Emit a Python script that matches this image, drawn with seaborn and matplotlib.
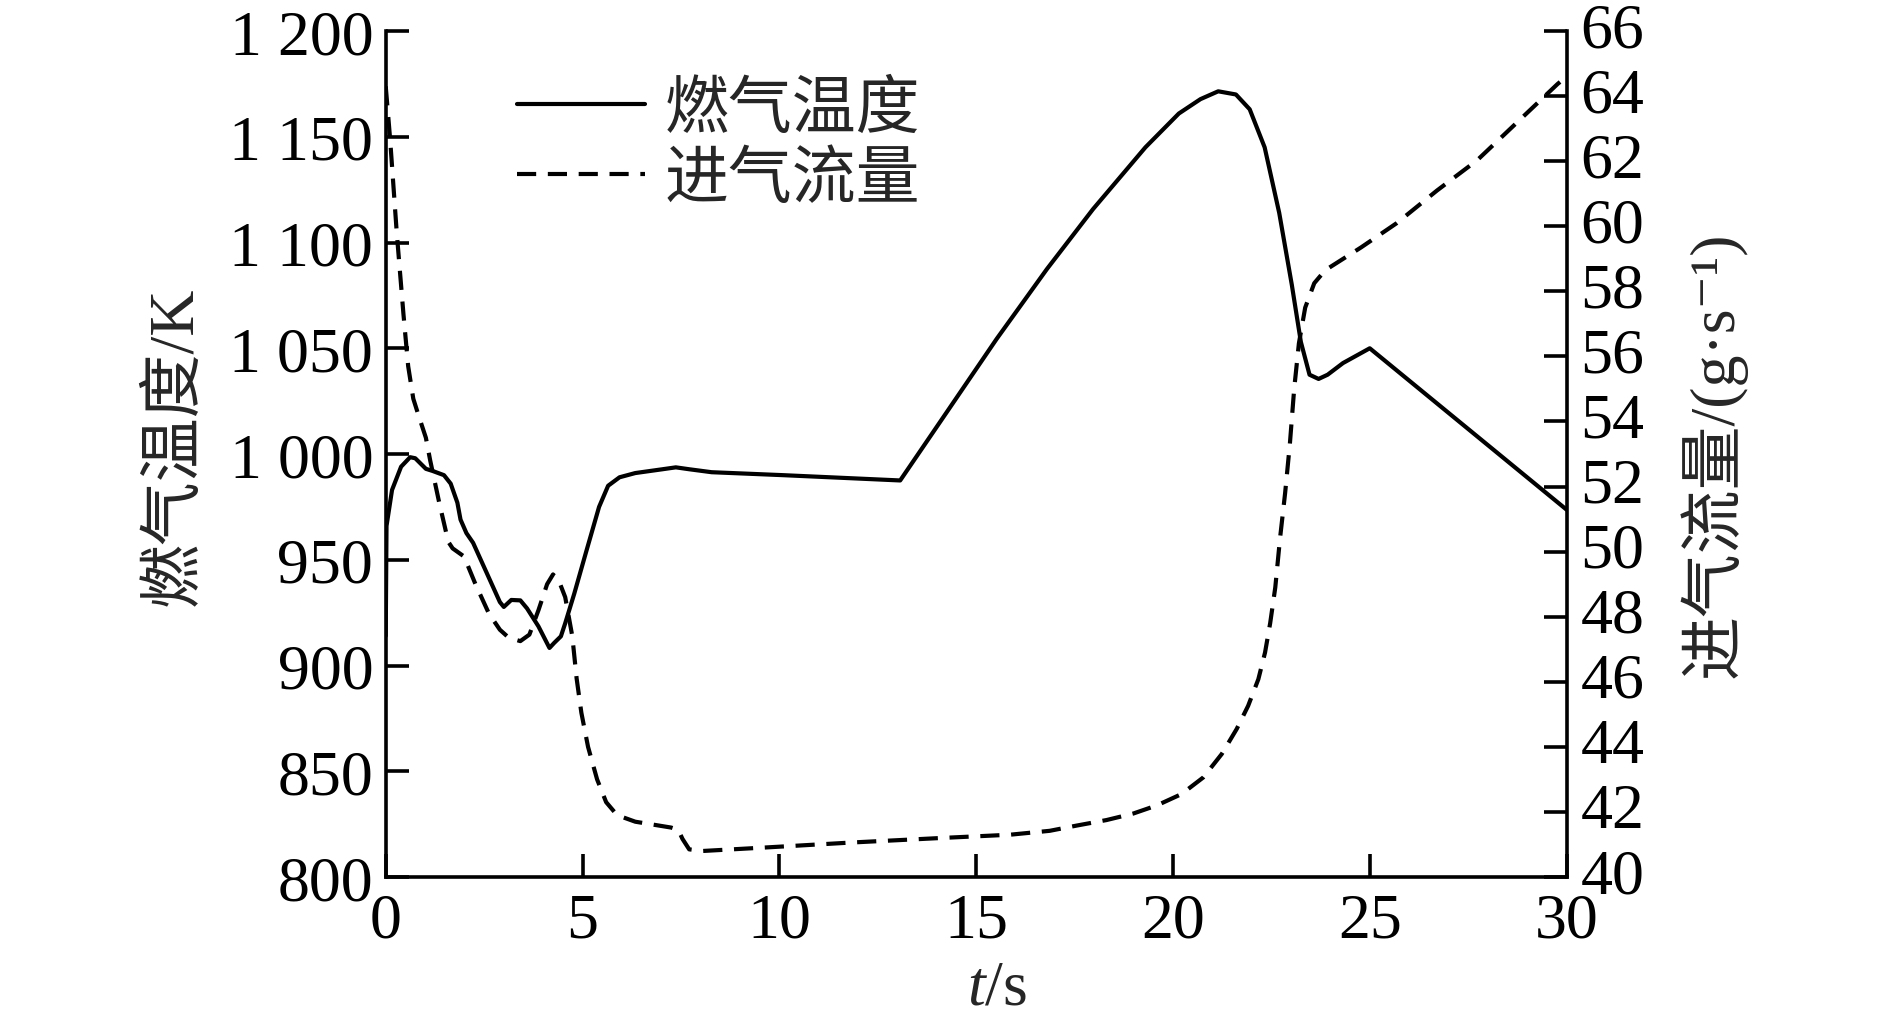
import numpy as np
import pandas as pd
import matplotlib
matplotlib.use("Agg")
import matplotlib.pyplot as plt
import matplotlib.transforms as mtransforms
import seaborn as sns

# ---- data ----
t_temp = [0, 0.02, 0.16, 0.39, 0.62, 0.75, 1.02, 1.19, 1.48, 1.65, 1.82, 1.9, 2.05,
          2.22, 2.56, 2.9, 3.0, 3.19, 3.42, 3.59, 3.88, 4.16, 4.28, 4.45, 4.56, 4.79,
          5.08, 5.42, 5.65, 5.94, 6.34, 7.03, 7.37, 7.71, 8.28, 10.1, 13.07, 14.25,
          15.52, 16.8, 17.97, 19.3, 20.15, 20.7, 21.15, 21.6, 21.95, 22.33, 22.7,
          23.02, 23.25, 23.47, 23.7, 23.93, 24.32, 25.0, 30.0]
temp = [914, 966, 983, 994, 998.5, 998, 993, 992, 990, 986, 977, 969, 962.6,
        958, 944, 930, 927.7, 931, 930.8, 927, 918.5, 908.3, 910.7, 913.8, 920, 934,
        953, 975, 985, 989, 991, 992.8, 993.7, 992.8, 991.4, 990, 987.5, 1019.7,
        1054.4, 1087.5, 1115.8, 1145, 1161, 1167.8, 1171.5, 1170, 1163, 1145, 1114,
        1080, 1053, 1037.5, 1035.5, 1037.5, 1043, 1050, 973.7]

t_flow = [0, 0.11, 0.28, 0.45, 0.57, 0.7, 0.83, 1.02, 1.13, 1.36, 1.59, 1.7, 1.99,
          2.28, 2.62, 2.9, 3.13, 3.42, 3.65, 3.88, 4.1, 4.25, 4.4, 4.56, 4.74, 4.85,
          4.97, 5.14, 5.37, 5.6, 5.88, 6.34, 7.25, 7.43, 7.54, 7.71, 8.05, 9.54,
          11.83, 14.12, 15.86, 16.87, 17.55, 18.31, 18.99, 19.59, 20.22, 20.77,
          21.24, 21.62, 21.91, 22.17, 22.34, 22.47, 22.6, 22.72, 22.85, 22.97,
          23.08, 23.2, 23.36, 23.59, 23.87, 24.78, 25.69, 26.71, 27.73, 28.75,
          29.77, 30.0]
flow = [64.3, 62.7, 59.8, 57.3, 55.7, 54.7, 54.2, 53.5, 52.8, 51.5, 50.3, 50.1, 49.85,
        49.0, 48.1, 47.6, 47.35, 47.25, 47.45, 48.2, 49.0, 49.3, 49.1, 48.6, 47.4, 46.1,
        45.05, 44.0, 43.0, 42.3, 41.9, 41.7, 41.52, 41.45, 41.17, 40.85, 40.8, 40.9,
        41.06, 41.2, 41.3, 41.42, 41.58, 41.75, 41.95, 42.2, 42.55, 43.06,
        43.78, 44.55, 45.26, 46.08, 46.9, 47.8, 48.9, 50.4, 51.8, 53.3,
        55.0, 56.4, 57.5, 58.25, 58.65, 59.35, 60.1, 61.1, 62.03, 63.2,
        64.37, 64.6]

x_ticks = [0, 5, 10, 15, 20, 25, 30]
left_ticks = [800, 850, 900, 950, 1000, 1050, 1100, 1150, 1200]
left_tick_labels = ["800", "850", "900", "950", "1 000", "1 050", "1 100", "1 150", "1 200"]
right_ticks = list(range(40, 67, 2))

label_temp = "燃气温度"
label_flow = "进气流量"
ylabel_left = "燃气温度/K"
ylabel_right = "进气流量/(g·s⁻¹)"

# ---- style ----
sns.set_theme(style="white")
plt.rcParams["font.family"] = ["Liberation Serif", "Noto Sans CJK SC", "DejaVu Sans"]
plt.rcParams["mathtext.fontset"] = "custom"
plt.rcParams["mathtext.rm"] = "Liberation Serif"
plt.rcParams["mathtext.it"] = "Liberation Serif:italic"
plt.rcParams["axes.unicode_minus"] = False

FS = 46
LW = 3.0
SPINE_LW = 2.6

fig = plt.figure(figsize=(18.89, 10.20), dpi=100)
ax = fig.add_axes([0.2042, 0.1392, 0.8293 - 0.2042, 0.9686 - 0.1392])
ax2 = ax.twinx()

df_t = pd.DataFrame({"t": t_temp, "v": temp})
df_f = pd.DataFrame({"t": t_flow, "v": flow})

sns.lineplot(data=df_t, x="t", y="v", ax=ax, color="black", lw=LW,
             estimator=None, sort=False, label=label_temp, legend=False)
sns.lineplot(data=df_f, x="t", y="v", ax=ax2, color="black", lw=LW,
             estimator=None, sort=False, label=label_flow, legend=False,
             dashes=False)
ax2.lines[0].set_dashes((4.6, 2.8))

ax.set_xlim(0, 30)
ax.set_ylim(800, 1200)
ax2.set_ylim(40, 66)

ax.set_xticks(x_ticks)
ax.set_xticklabels([str(v) for v in x_ticks])
ax.set_yticks(left_ticks)
ax.set_yticklabels(left_tick_labels)
ax2.set_yticks(right_ticks)
ax2.set_yticklabels([str(v) for v in right_ticks])

for a in (ax, ax2):
    a.spines["top"].set_visible(False)
    for s in a.spines.values():
        s.set_linewidth(SPINE_LW)
        s.set_color("black")
    a.grid(False)
    a.set_facecolor("none")

ax.spines["right"].set_visible(False)
ax2.spines["left"].set_visible(False)
ax2.spines["bottom"].set_visible(False)

ax.tick_params(axis="x", direction="in", length=16.5, width=SPINE_LW,
               labelsize=FS, pad=11, colors="black", bottom=True, top=False)
ax.tick_params(axis="y", direction="in", length=16.5, width=SPINE_LW,
               labelsize=FS, pad=9, colors="black", left=True, right=False)
ax2.tick_params(axis="y", direction="in", length=16.5, width=SPINE_LW,
                labelsize=FS, pad=10, colors="black", right=True, left=False)

# right tick labels sit slightly above their ticks in the reference
offset = mtransforms.ScaledTranslation(0, 0.07, fig.dpi_scale_trans)
for lbl in ax2.get_yticklabels():
    lbl.set_transform(lbl.get_transform() + offset)

ax.set_xlabel("$t$/s", fontsize=FS, family="Liberation Serif")
ax.xaxis.set_label_coords(0.518, -0.098)
ax.set_ylabel(ylabel_left, fontsize=FS, va="center")
ax.yaxis.set_label_coords(-0.178, 0.51)
ax2.set_ylabel(ylabel_right, fontsize=FS, va="center", rotation=90)
ax2.yaxis.set_label_coords(1.124, 0.5)

h1 = ax.lines[0]
h2 = ax2.lines[0]
leg = ax.legend([h1, h2], [label_temp, label_flow], loc="upper left",
                bbox_to_anchor=(0.1114, 0.948), frameon=False, fontsize=FS,
                handlelength=2.0, handletextpad=0.3, labelspacing=0.06,
                borderpad=0, borderaxespad=0)
for txt in leg.get_texts():
    txt.set_family(["Noto Sans CJK SC", "DejaVu Sans"])

fig.savefig("out.png", dpi=100, facecolor="white")
